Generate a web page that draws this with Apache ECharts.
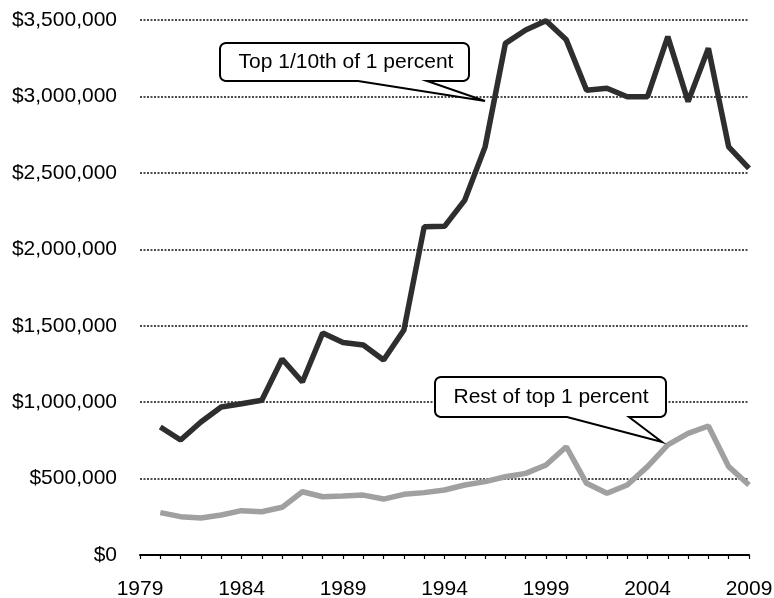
<!DOCTYPE html>
<html>
<head>
<meta charset="utf-8">
<script src="https://cdn.jsdelivr.net/npm/echarts@6/dist/echarts.min.js"></script>
<style>
html,body{margin:0;padding:0;background:#fff;}
#chart{width:774px;height:598px;}
</style>
</head>
<body>
<div id="chart"></div>
<script>
// Categories (years)
var years = [];
for (var y = 1979; y <= 2009; y++) years.push(String(y));

// Average income, top 1/10th of 1 percent (1979 has no point)
var top01 = [null,
  837000, 752000, 870000, 968000, 990000, 1012000, 1282000, 1132000, 1452000, 1390000,
  1374000, 1276000, 1472000, 2148000, 2150000, 2322000, 2670000, 3347000, 3435000, 3495000,
  3370000, 3040000, 3053000, 2998000, 2998000, 3391000, 2966000, 3315000, 2670000, 2530000];

// Average income, rest of top 1 percent
var restTop1 = [null,
  277000, 251000, 242000, 262000, 290000, 283000, 312000, 414000, 381000, 386000,
  392000, 366000, 397000, 408000, 425000, 458000, 480000, 512000, 534000, 589000,
  708000, 469000, 404000, 458000, 578000, 720000, 796000, 844000, 578000, 458000];

var seriesNames = ['Top 1/10th of 1 percent', 'Rest of top 1 percent'];

var chart = echarts.init(document.getElementById('chart'), null, {renderer: 'canvas'});

// Speech-bubble outline as polygon points (rounded corners sampled)
function bubblePoints(x1, y1, x2, y2, r, bx1, bx2, tx, ty) {
  var pts = [];
  function arc(cx, cy, a0, a1) {
    for (var i = 0; i <= 6; i++) {
      var a = a0 + (a1 - a0) * i / 6;
      pts.push([cx + r * Math.cos(a), cy + r * Math.sin(a)]);
    }
  }
  var P = Math.PI;
  arc(x1 + r, y1 + r, P, 1.5 * P);        // top-left
  arc(x2 - r, y1 + r, 1.5 * P, 2 * P);    // top-right
  arc(x2 - r, y2 - r, 0, 0.5 * P);        // bottom-right
  pts.push([bx2, y2]);
  pts.push([tx, ty]);
  pts.push([bx1, y2]);
  arc(x1 + r, y2 - r, 0.5 * P, P);        // bottom-left
  return pts;
}

var font = '"Liberation Sans", Arial, sans-serif';

var option = {
  backgroundColor: '#ffffff',
  animation: false,
  grid: {left: 140, right: 25, top: 20, bottom: 43, containLabel: false, outerBoundsMode: 'none'},
  xAxis: {
    type: 'category',
    data: years,
    boundaryGap: false,
    axisLine: {show: true, lineStyle: {color: '#000', width: 2}},
    axisTick: {show: true, interval: 0, length: 4, lineStyle: {color: '#000', width: 1.2}},
    axisLabel: {interval: 4, color: '#000', fontSize: 21, fontFamily: font, margin: 24},
    splitLine: {show: false}
  },
  yAxis: {
    type: 'value',
    min: 0, max: 3500000, interval: 500000,
    axisLine: {show: false},
    axisTick: {show: false},
    axisLabel: {
      color: '#000', fontSize: 21, fontFamily: font, margin: 23,
      formatter: function (v) { return '$' + v.toLocaleString('en-US'); }
    },
    splitLine: {show: true, lineStyle: {color: '#111', width: 1.6, type: [2, 1.5]}}
  },
  series: [
    {
      name: seriesNames[0], type: 'line', data: top01, symbol: 'none',
      lineStyle: {color: '#2e2e2e', width: 5.5}, z: 3
    },
    {
      name: seriesNames[1], type: 'line', data: restTop1, symbol: 'none',
      lineStyle: {color: '#a0a0a0', width: 5.5}, z: 3
    }
  ],
  graphic: [
    {
      type: 'polygon', z: 100,
      shape: {points: bubblePoints(220, 43, 469, 81, 6, 358, 427, 485, 101)},
      style: {fill: '#fff', stroke: '#000', lineWidth: 2}
    },
    {
      type: 'text', z: 101, x: 346, y: 62,
      style: {text: seriesNames[0], fill: '#000', font: '21px ' + font, align: 'center', verticalAlign: 'middle'}
    },
    {
      type: 'polygon', z: 100,
      shape: {points: bubblePoints(435, 377, 666, 417, 6, 567, 629, 662, 442)},
      style: {fill: '#fff', stroke: '#000', lineWidth: 2}
    },
    {
      type: 'text', z: 101, x: 551, y: 397,
      style: {text: seriesNames[1], fill: '#000', font: '21px ' + font, align: 'center', verticalAlign: 'middle'}
    }
  ]
};
chart.setOption(option);
</script>
</body>
</html>
